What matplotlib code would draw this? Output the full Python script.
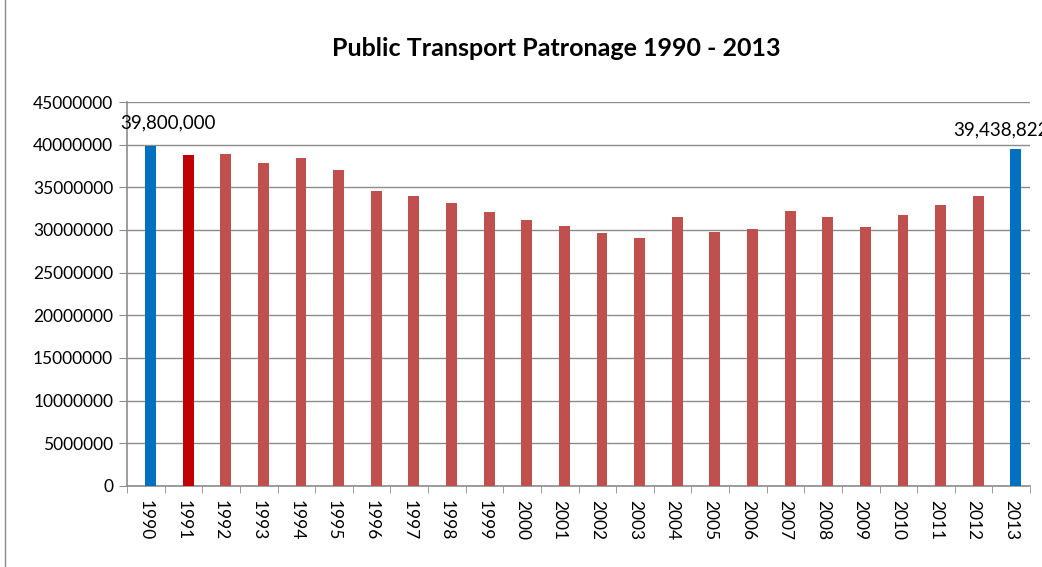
import numpy as np
import matplotlib
matplotlib.use("Agg")
import matplotlib.pyplot as plt
from matplotlib.lines import Line2D

years = [str(y) for y in range(1990, 2014)]
patronage = [39800000, 38800000, 38900000, 37850000, 38400000, 37000000,
             34570000, 33980000, 33130000, 32070000, 31200000, 30500000,
             29600000, 29100000, 31560000, 29800000, 30150000, 32260000,
             31560000, 30350000, 31750000, 32900000, 33980000, 39438822]
bar_colors = ["#0070C0", "#C00000"] + ["#C0504D"] * 21 + ["#0070C0"]
label_text = ["39,800,000", "39,438,822"]

plt.rcParams["font.family"] = ["Lato", "DejaVu Sans"]

fig = plt.figure(figsize=(10.42, 5.67), dpi=100)
ax = fig.add_axes([0.1219, 0.1429, 0.8666, 0.6772])

x = np.arange(len(years))
ax.bar(x + 0.125, patronage, width=0.29, color=bar_colors, zorder=3)

ax.set_xlim(-0.5, len(years) - 0.5)
ax.set_ylim(0, 45000000)
ax.set_yticks(np.arange(0, 45000001, 5000000))
ax.set_yticklabels([str(v) for v in range(0, 45000001, 5000000)], fontsize=12.5)
ax.yaxis.grid(True, color="#8c8c8c", linewidth=1.0, zorder=0)

ax.set_xticks(x)
ax.set_xticklabels(years, rotation=270, fontsize=12.5)
ax.set_xticks(np.arange(-0.5, len(years)), minor=True)
ax.tick_params(axis="x", which="major", length=0, pad=10)
ax.tick_params(axis="x", which="minor", length=5, color="#8c8c8c")
ax.tick_params(axis="y", length=6, color="#8c8c8c", pad=4)

for side in ["top", "right"]:
    ax.spines[side].set_visible(False)
for side in ["left", "bottom"]:
    ax.spines[side].set_color("#8c8c8c")
    ax.spines[side].set_linewidth(1.2)

# data labels for first and last year
ax.text(0.59, 42540000, label_text[0], ha="center", va="center",
        fontsize=13.5, clip_on=False)
ax.text(23 - 0.28, 41720000, label_text[1], ha="center", va="center",
        fontsize=13.5, clip_on=False)

fig.text(0.5336, 0.915, "Public Transport Patronage 1990 - 2013",
         ha="center", va="center", fontsize=18, fontweight="bold")

# chart area border on the left
fig.add_artist(Line2D([0.005, 0.005], [0, 1], color="#8c8c8c", linewidth=1))

fig.savefig("out.png", dpi=100)
